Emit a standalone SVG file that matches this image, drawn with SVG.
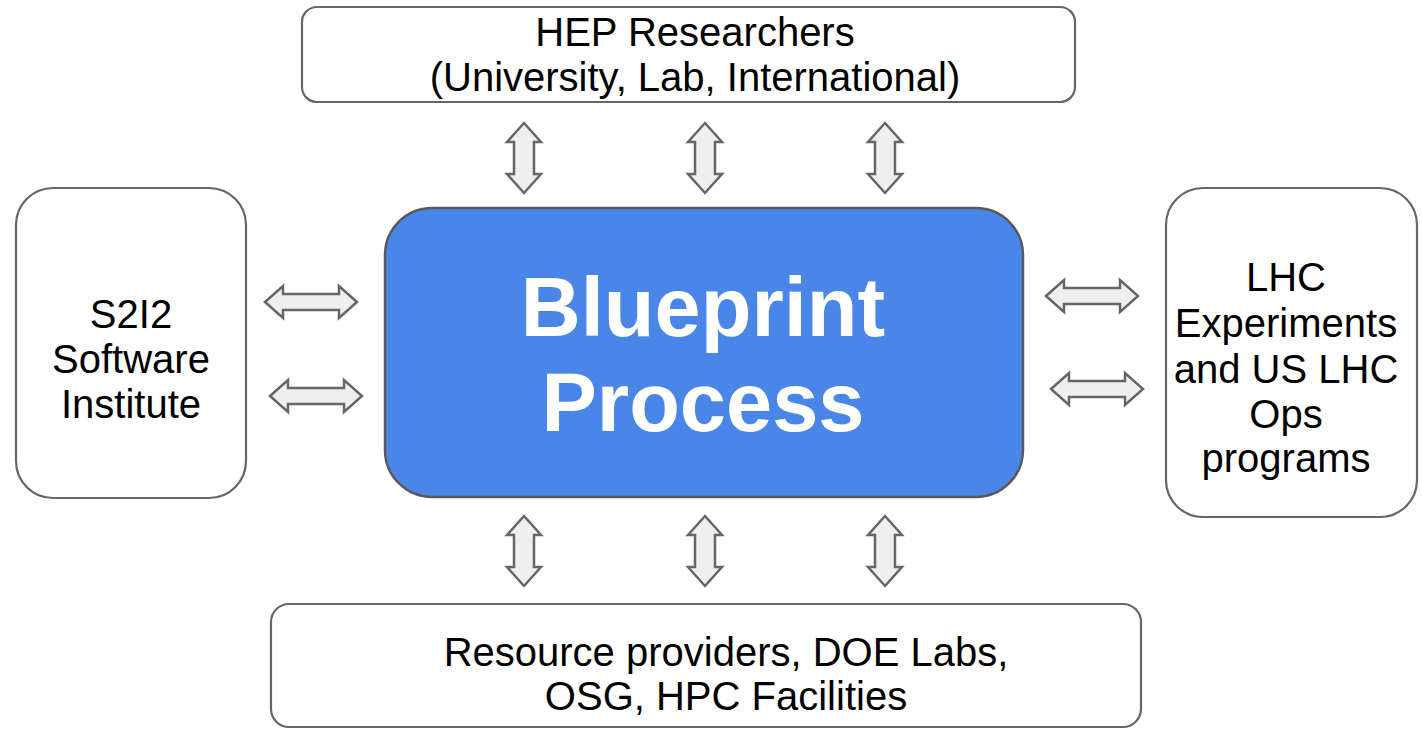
<svg xmlns="http://www.w3.org/2000/svg" xmlns:xlink="http://www.w3.org/1999/xlink" width="1422" height="730" viewBox="0 0 1422 730">
  <style>
    .box { fill: #ffffff; stroke: #666666; stroke-width: 2.2; }
    .center { fill: #4a86e8; stroke: #595959; stroke-width: 2.5; }
    .lbl { font-family: "Liberation Sans", Arial, sans-serif; font-size: 40px; fill: #000000; text-anchor: middle; }
    .big { font-family: "Liberation Sans", Arial, sans-serif; font-size: 83px; font-weight: bold; fill: #ffffff; text-anchor: middle; }
    .arr { fill: #efefef; stroke: #666666; stroke-width: 2.5; stroke-linejoin: miter; }
  </style>
  <defs>
    <path id="varrow" d="M0,-35 L17,-16 L10,-16 L10,16 L17,16 L0,35 L-17,16 L-10,16 L-10,-16 L-17,-16 Z"/>
    <path id="harrow" d="M-46,0 L-28,-16 L-28,-8 L28,-8 L28,-16 L46,0 L28,16 L28,8 L-28,8 L-28,16 Z"/>
  </defs>
  <rect width="1422" height="730" fill="#ffffff"/>

  <g id="connectors">
    <use xlink:href="#varrow" class="arr" transform="translate(524,158)"/>
    <use xlink:href="#varrow" class="arr" transform="translate(705,158)"/>
    <use xlink:href="#varrow" class="arr" transform="translate(885,158)"/>
    <use xlink:href="#varrow" class="arr" transform="translate(524,551)"/>
    <use xlink:href="#varrow" class="arr" transform="translate(705,551)"/>
    <use xlink:href="#varrow" class="arr" transform="translate(885,551)"/>
    <use xlink:href="#harrow" class="arr" transform="translate(311,302)"/>
    <use xlink:href="#harrow" class="arr" transform="translate(316,396)"/>
    <use xlink:href="#harrow" class="arr" transform="translate(1092,296)"/>
    <use xlink:href="#harrow" class="arr" transform="translate(1097,389)"/>
  </g>

  <g id="hep-researchers">
    <rect class="box" x="302" y="7" width="773" height="95" rx="15" ry="15"/>
    <text class="lbl" x="695" y="46">HEP Researchers</text>
    <text class="lbl" x="695" y="91">(University, Lab, International)</text>
  </g>

  <g id="s2i2">
    <rect class="box" x="16" y="188" width="230" height="310" rx="37" ry="37"/>
    <text class="lbl" x="131" y="328">S2I2</text>
    <text class="lbl" x="131" y="373">Software</text>
    <text class="lbl" x="131" y="418">Institute</text>
  </g>

  <g id="blueprint">
    <rect class="center" x="385" y="208" width="638" height="289" rx="47" ry="47"/>
    <text class="big" x="703" y="336">Blueprint</text>
    <text class="big" x="703" y="431">Process</text>
  </g>

  <g id="lhc">
    <rect class="box" x="1166" y="188" width="251" height="329" rx="37" ry="37"/>
    <text class="lbl" x="1286" y="291">LHC</text>
    <text class="lbl" x="1286" y="337">Experiments</text>
    <text class="lbl" x="1286" y="383">and US LHC</text>
    <text class="lbl" x="1286" y="428">Ops</text>
    <text class="lbl" x="1286" y="472">programs</text>
  </g>

  <g id="resources">
    <rect class="box" x="271" y="604" width="870" height="123" rx="18" ry="18"/>
    <text class="lbl" x="726" y="666">Resource providers, DOE Labs,</text>
    <text class="lbl" x="726" y="710">OSG, HPC Facilities</text>
  </g>
</svg>
